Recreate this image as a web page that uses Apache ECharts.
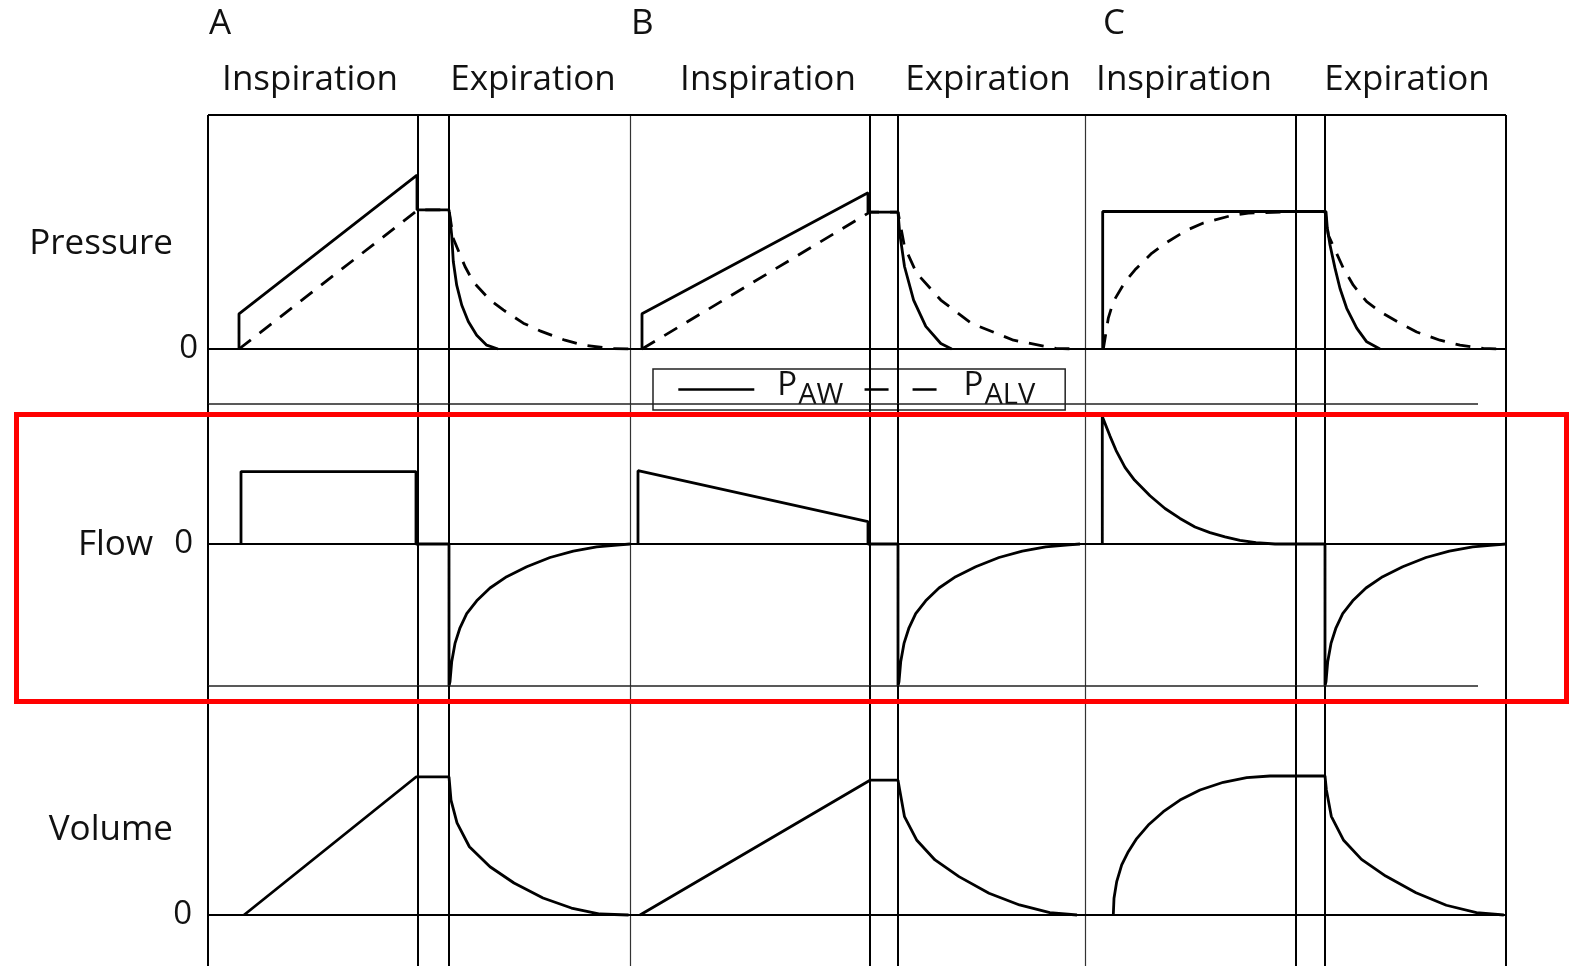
<!DOCTYPE html>
<html>
<head>
<meta charset="utf-8">
<script src="https://cdn.jsdelivr.net/npm/echarts@6/dist/echarts.min.js"></script>
<style>
  html, body { margin: 0; padding: 0; background: #fff; }
  #chart { width: 1569px; height: 966px; }
</style>
</head>
<body>
<div id="chart"></div>
<script>
// Time axis in seconds. Three breaths (A, B, C), each split into
// inspiration, inspiratory pause and expiration.
const phaseEdges = [0, 2.10, 2.41, 6.62, 6.90, 10.88, 11.17, 12.98];
const breathEdges = [4.22, 8.77];
const tEnd = 12.98;
const tShortLine = 12.70;

const breathLetters = ['A', 'B', 'C'];
const phaseNames = ['Inspiration', 'Expiration', 'Inspiration', 'Expiration', 'Inspiration', 'Expiration'];
const rowNames = ['Pressure', 'Flow', 'Volume'];

// Airway pressure (solid), [t, cmH2O]
const pawA = [[0.31,0],[0.31,6.4],[2.09,31.6],[2.09,25.3],[2.41,25.3],[2.437,20.7],[2.453,15.9],[2.487,11.6],[2.537,8.0],[2.603,5.0],[2.687,2.5],[2.787,0.7],[2.90,0]];
const pawB = [[4.34,0],[4.34,6.4],[6.60,28.4],[6.60,24.9],[6.90,24.9],[6.917,21.1],[6.965,15.0],[7.056,8.9],[7.178,4.1],[7.328,1.0],[7.437,0]];
const pawC = [[8.947,0],[8.947,25.0],[11.18,25.0],[11.193,22.0],[11.22,18.9],[11.27,14.7],[11.32,11.0],[11.387,7.4],[11.487,3.8],[11.587,1.3],[11.72,0]];

// Alveolar pressure (dashed), [t, cmH2O]
const palvA = [[0.31,0],[2.10,25.3],[2.41,25.3],[2.453,20.1],[2.57,15.0],[2.653,12.2],[2.82,8.9],[2.953,7.1],[3.153,4.7],[3.32,3.3],[3.57,1.6],[3.753,0.7],[4.02,0.1],[4.22,0]];
const palvB = [[4.34,0],[6.62,24.9],[6.90,24.9],[6.965,18.6],[7.086,13.8],[7.328,8.9],[7.63,4.7],[8.055,1.6],[8.48,0.1],[8.72,0]];
const palvC = [[8.953,0],[9.003,5.6],[9.053,8.6],[9.17,12.2],[9.27,14.4],[9.437,17.4],[9.57,19.2],[9.787,21.6],[9.953,22.9],[10.22,24.2],[10.403,24.7],[10.88,25.0],[11.17,25.0],[11.203,20.7],[11.353,14.7],[11.453,11.6],[11.587,8.6],[11.72,6.8],[11.92,4.7],[12.087,3.1],[12.32,1.6],[12.52,0.7],[12.753,0.1],[12.953,0]];

// Flow, [t, relative flow]
const flowA = [[0.33,0],[0.33,0.51],[2.08,0.51],[2.08,0],[2.41,0],[2.41,-1],[2.42,-0.97],[2.437,-0.83],[2.47,-0.70],[2.52,-0.59],[2.587,-0.49],[2.687,-0.40],[2.82,-0.31],[2.987,-0.23],[3.187,-0.16],[3.42,-0.095],[3.653,-0.05],[3.887,-0.02],[4.12,-0.006],[4.22,0]];
const flowB = [[4.30,0],[4.30,0.516],[6.60,0.157],[6.60,0],[6.90,0],[6.90,-1],[6.91,-0.97],[6.927,-0.83],[6.96,-0.70],[7.01,-0.59],[7.077,-0.49],[7.177,-0.40],[7.31,-0.31],[7.477,-0.23],[7.677,-0.16],[7.91,-0.095],[8.143,-0.05],[8.377,-0.02],[8.61,-0.006],[8.72,0]];
const flowC = [[8.943,0],[8.943,0.897],[8.96,0.89],[9.02,0.76],[9.08,0.66],[9.17,0.54],[9.265,0.45],[9.42,0.34],[9.57,0.25],[9.72,0.18],[9.87,0.12],[10.02,0.08],[10.17,0.05],[10.32,0.025],[10.48,0.01],[10.67,0],[11.17,0],[11.17,-1],[11.18,-0.97],[11.197,-0.83],[11.23,-0.70],[11.28,-0.59],[11.347,-0.49],[11.447,-0.40],[11.58,-0.31],[11.747,-0.23],[11.947,-0.16],[12.18,-0.095],[12.413,-0.05],[12.647,-0.02],[12.88,-0.006],[12.98,0]];

// Volume, [t, relative volume]
const volA = [[0.36,0],[2.08,0.993],[2.41,0.993],[2.43,0.827],[2.49,0.662],[2.614,0.491],[2.82,0.347],[3.06,0.230],[3.35,0.122],[3.634,0.050],[3.92,0.007],[4.206,0]];
const volB = [[4.32,0],[6.62,0.97],[6.90,0.97],[6.917,0.90],[6.965,0.707],[7.086,0.54],[7.27,0.396],[7.51,0.276],[7.81,0.156],[8.115,0.072],[8.418,0.017],[8.69,0]];
const volC = [[9.053,0],[9.06,0.12],[9.087,0.24],[9.137,0.36],[9.203,0.455],[9.287,0.55],[9.403,0.647],[9.553,0.743],[9.72,0.827],[9.92,0.899],[10.153,0.955],[10.387,0.988],[10.62,1.0],[11.17,1.0],[11.184,0.90],[11.233,0.71],[11.354,0.54],[11.535,0.40],[11.777,0.28],[12.08,0.16],[12.383,0.07],[12.685,0.017],[12.958,0]];

// y ranges of the three panels
const pRange = [-10, 42.545];
const fRange = [-1, 0.986];
const vRange = [-0.367, 1.6475];

const FONT = '"Open Sans"';
const INK = '#111';
const curveW = 2.8;
const frameThick = { color: '#000', width: 2, type: 'solid' };
const frameThin = { color: '#333', width: 1.2, type: 'solid' };
const frameZero = { color: '#000', width: 2, type: 'solid' };
const frameLow = { color: '#222', width: 1.5, type: 'solid' };

function frameLines(range, opts) {
  const d = [];
  phaseEdges.forEach(t => d.push({ xAxis: t, lineStyle: frameThick }));
  breathEdges.forEach(t => d.push({ xAxis: t, lineStyle: frameThin }));
  d.push({ yAxis: 0, lineStyle: frameZero });
  if (opts.top) d.push([{ coord: [0, range[1]], lineStyle: frameThick }, { coord: [tEnd, range[1]] }]);
  if (opts.bottom) d.push([{ coord: [0, range[0]], lineStyle: frameLow }, { coord: [tShortLine, range[0]] }]);
  return {
    silent: true, symbol: ['none', 'none'], label: { show: false }, animation: false,
    lineStyle: { type: 'solid', color: '#000', width: 2 },
    emphasis: { disabled: true }, data: d
  };
}

function curve(name, idx, data, dashed, mark) {
  const s = {
    name, type: 'line', xAxisIndex: idx, yAxisIndex: idx, data,
    symbol: 'none', showSymbol: false, clip: false, animation: false, silent: true,
    lineStyle: { color: '#000', width: curveW, type: dashed ? [15, 11] : 'solid' },
    itemStyle: { color: '#000' },
    emphasis: { disabled: true },
    z: 3
  };
  if (mark) s.markLine = mark;
  return s;
}

function yAxis(idx, range, margin) {
  return {
    type: 'value', gridIndex: idx, min: range[0], max: range[1],
    axisLine: { show: false }, axisTick: { show: false }, splitLine: { show: false },
    axisLabel: {
      customValues: [0], formatter: v => (v === 0 ? '0' : ''),
      fontFamily: FONT, fontSize: 33, color: INK, margin
    }
  };
}

function xAxis(idx) {
  return { type: 'value', gridIndex: idx, min: 0, max: tEnd, show: false };
}

const texts = [];
[209, 631, 1103].forEach((x, i) => texts.push({ x, y: 24, t: breathLetters[i], align: 'left' }));
[310, 533, 768, 988, 1184, 1407].forEach((x, i) => texts.push({ x, y: 80, t: phaseNames[i], align: 'center' }));
[[173, 244], [153, 545], [173, 830]].forEach((p, i) => texts.push({ x: p[0], y: p[1], t: rowNames[i], align: 'right' }));

const graphic = texts.map(o => ({
  type: 'text', x: o.x, y: o.y, silent: true,
  style: {
    text: o.t, fill: INK, fontFamily: FONT, fontSize: 35,
    align: o.align, verticalAlign: 'middle', textAlign: o.align, textVerticalAlign: 'middle'
  }
}));
// highlight box around the flow panel
graphic.push({
  type: 'rect', z: 100, silent: true,
  shape: { x: 16.5, y: 414.5, width: 1550, height: 287 },
  style: { fill: 'none', stroke: '#ff0000', lineWidth: 5 }
});

const chart = echarts.init(document.getElementById('chart'), null, { renderer: 'canvas' });
chart.setOption({
  backgroundColor: '#fff',
  animation: false,
  grid: [
    { left: 208, width: 1298, top: 115, height: 289 },
    { left: 208, width: 1298, top: 404, height: 282 },
    { left: 208, width: 1298, top: 686, height: 280 }
  ],
  xAxis: [xAxis(0), xAxis(1), xAxis(2)],
  yAxis: [yAxis(0, pRange, 10), yAxis(1, fRange, 15), yAxis(2, vRange, 16)],
  legend: {
    left: 653, top: 369,
    data: [
      { name: 'PAW' },
      { name: 'PALV', lineStyle: { type: [24, 24] } }
    ],
    selectedMode: false,
    itemWidth: 76, itemHeight: 14, itemGap: 20,
    itemStyle: { opacity: 0, color: 'rgba(0,0,0,0)', borderWidth: 0 },
    lineStyle: { width: 2.6, color: '#000' },
    padding: [0, 30, 0, 24],
    backgroundColor: '#fff', borderColor: '#222', borderWidth: 1.5,
    formatter: n => (n === 'PAW' ? '{m|P}{s|AW}' : '{m|P}{s|ALV}'),
    textStyle: {
      color: INK, fontFamily: FONT,
      rich: {
        m: { fontSize: 33, lineHeight: 41, verticalAlign: 'top', fontFamily: FONT, color: INK, padding: [0, 0, 0, 18] },
        s: { fontSize: 29, lineHeight: 41, verticalAlign: 'bottom', fontFamily: FONT, color: INK, padding: [0, 0, 0, 1] }
      }
    }
  },
  graphic,
  series: [
    curve('PAW', 0, pawA, false, frameLines(pRange, { top: true, bottom: true })),
    curve('PAW', 0, pawB, false),
    curve('PAW', 0, pawC, false),
    curve('PALV', 0, palvA, true),
    curve('PALV', 0, palvB, true),
    curve('PALV', 0, palvC, true),
    curve('Flow', 1, flowA, false, frameLines(fRange, { bottom: true })),
    curve('Flow', 1, flowB, false),
    curve('Flow', 1, flowC, false),
    curve('Volume', 2, volA, false, frameLines(vRange, {})),
    curve('Volume', 2, volB, false),
    curve('Volume', 2, volC, false)
  ]
});
</script>
</body>
</html>
